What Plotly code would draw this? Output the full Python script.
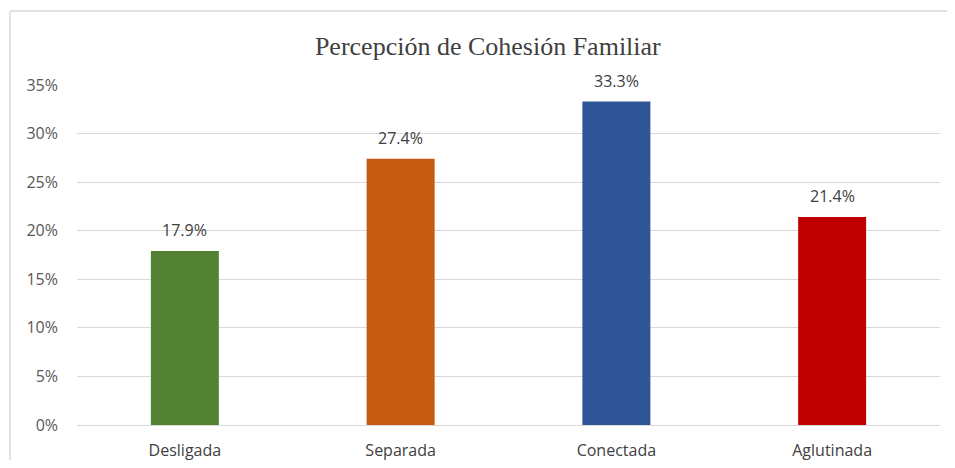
import plotly.graph_objects as go

categories = ["Desligada", "Separada", "Conectada", "Aglutinada"]
values = [17.9, 27.4, 33.3, 21.4]
colors = ["#548235", "#C55A11", "#2F5597", "#C00000"]
tick_vals = [0, 5, 10, 15, 20, 25, 30, 35]
tick_text = ["0%", "5%", "10%", "15%", "20%", "25%", "30%", "35%"]
title = "Percepción de Cohesión Familiar"

FONT = "Open Sans, Liberation Sans, sans-serif"

fig = go.Figure(go.Bar(
    x=categories, y=values,
    marker=dict(color=colors, line=dict(width=0)),
    width=0.315,
    hoverinfo="x+y",
))

for c, v in zip(categories, values):
    fig.add_annotation(x=c, y=v, text=f"{v:.1f}%", showarrow=False,
                       yanchor="bottom", yshift=8,
                       font=dict(family=FONT, size=16, color="#404040"))

# page body adds an 8px offset; figure is sized so the plot lands where the reference has it
W, H = 939, 452
L, T = 69, 77
PW, PH = 863, 340

fig.update_layout(
    width=W, height=H,
    margin=dict(l=L, r=W - L - PW, t=T, b=H - T - PH, autoexpand=False),
    paper_bgcolor="white", plot_bgcolor="white",
    showlegend=False,
    title=dict(text=title, x=0.511, xanchor="center", y=(H - 38) / H, yanchor="middle",
               font=dict(family="Liberation Serif, Times New Roman, serif", size=26, color="#404040")),
    xaxis=dict(showline=False, ticks="", showgrid=False, ticklabelstandoff=14,
               tickfont=dict(family=FONT, size=16, color="#404040")),
    yaxis=dict(range=[0, 35], tickvals=tick_vals, ticktext=tick_text,
               showgrid=True, gridcolor="#D9D9D9", gridwidth=1, zeroline=True,
               zerolinecolor="#D9D9D9", zerolinewidth=1, showline=False, ticks="",
               ticklabelstandoff=18,
               tickfont=dict(family=FONT, size=16, color="#595959")),
    shapes=[
        dict(type="line", xref="paper", yref="paper", x0=(2 - L) / PW, x1=(W + 10 - L) / PW,
             y0=(T + PH - 3) / PH, y1=(T + PH - 3) / PH, line=dict(color="#D9D9D9", width=1.5)),
        dict(type="line", xref="paper", yref="paper", x0=(2 - L) / PW, x1=(2 - L) / PW,
             y0=(T + PH - 3) / PH, y1=-0.3, line=dict(color="#D9D9D9", width=1.5)),
    ],
)

fig.write_html("out.html")
